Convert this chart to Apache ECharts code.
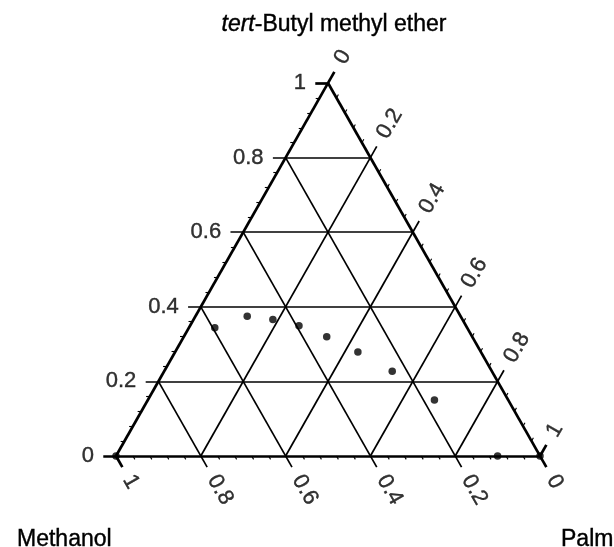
<!DOCTYPE html>
<html>
<head>
<meta charset="utf-8">
<script src="https://cdn.jsdelivr.net/npm/echarts@6/dist/echarts.min.js"></script>
<style>
  html, body { margin: 0; padding: 0; background: #fff; }
  #chart { width: 614px; height: 547px; }
</style>
</head>
<body>
<div id="chart"></div>
<script>
// Mole fractions of the three components for each measured composition
const METHANOL = [1.00, 0.595, 0.503, 0.447, 0.394, 0.343, 0.290, 0.235, 0.174, 0.10, 0.00];
const TBME     = [0.00, 0.344, 0.375, 0.366, 0.349, 0.320, 0.279, 0.227, 0.150, 0.00, 0.00];
const PALM     = [0.00, 0.061, 0.122, 0.187, 0.257, 0.337, 0.431, 0.538, 0.676, 0.90, 1.00];

// Labelled grid levels shared by all three axes
const TICKS = [0, 0.2, 0.4, 0.6, 0.8, 1];
const MINOR_STEP = 0.04;

const FONT = '"Liberation Sans", Arial, Helvetica, sans-serif';
const TICK_EXT = 0.03;     // major tick length beyond the edge (fraction units)
const MINOR_EXT = 0.009;   // minor tick length
const LABEL_GAP = 0.055;   // rotated label offset from the edge
const LEFT_GAP = 0.052;    // left label offset

// ternary (methanol, tbme, palm) -> cartesian with the top vertex at x = 0.5
function toXY(m, t, p) { return [p + t / 2, t]; }

// iso-lines, each running from its own axis (extended by ext) to the far edge
function tbmeLine(v, ext) { return [toXY(1 - v + ext, v, -ext), toXY(0, v, 1 - v)]; }
function methanolLine(v, ext) { return [toXY(v, -ext, 1 - v + ext), toXY(v, 1 - v, 0)]; }
function palmLine(v, ext) { return [toXY(1 - v, 0, v), toXY(-ext, 1 - v + ext, v)]; }

const edgeLines = [];
const gridLines = [];
TICKS.forEach(function (v) {
  const target = (v === 0 || v === 1) ? edgeLines : gridLines;
  target.push({ coords: tbmeLine(v, TICK_EXT) });
  target.push({ coords: methanolLine(v, TICK_EXT) });
  target.push({ coords: palmLine(v, TICK_EXT) });
});

const minorLines = [];
for (let k = 1; k < 25; k++) {
  if (k % 5 === 0) continue;
  const v = k * MINOR_STEP;
  // left edge (TBME), bottom edge (methanol), right edge (palm)
  minorLines.push({ coords: [toXY(1 - v, v, 0), toXY(1 - v + MINOR_EXT, v, -MINOR_EXT)] });
  minorLines.push({ coords: [toXY(v, 0, 1 - v), toXY(v, -MINOR_EXT, 1 - v + MINOR_EXT)] });
  minorLines.push({ coords: [toXY(0, 1 - v, v), toXY(-MINOR_EXT, 1 - v + MINOR_EXT, v)] });
}

const points = METHANOL.map(function (m, i) { return toXY(m, TBME[i], PALM[i]); });

const leftLabels = TICKS.map(function (v) {
  return { value: toXY(1 - v + LEFT_GAP, v, -LEFT_GAP), name: String(v) };
});
const bottomLabels = TICKS.map(function (v) {
  return { value: toXY(v, -LABEL_GAP, 1 - v + LABEL_GAP), name: String(v) };
});
const rightLabels = TICKS.map(function (v) {
  return { value: toXY(-LABEL_GAP, 1 - v + LABEL_GAP, v), name: String(v) };
});

const TEXT_INK = { color: '#000', textBorderColor: '#000', textBorderWidth: 0.4 };

function labelSeries(data, rotate, align) {
  return {
    type: 'scatter',
    data: data,
    symbolSize: 0,
    silent: true,
    clip: false,
    label: Object.assign({
      show: true,
      position: 'inside',
      formatter: '{b}',
      rotate: rotate,
      align: align,
      verticalAlign: 'middle',
      fontFamily: FONT,
      fontSize: 22
    }, TEXT_INK)
  };
}

const chart = echarts.init(document.getElementById('chart'), null, { renderer: 'canvas' });
chart.setOption({
  animation: false,
  backgroundColor: '#fff',
  title: [
    {
      text: '{i|tert}-Butyl methyl ether',
      left: 329, top: 8, textAlign: 'center',
      textStyle: Object.assign({
        fontFamily: FONT, fontSize: 23, fontWeight: 'normal',
        rich: { i: Object.assign({ fontFamily: FONT, fontSize: 23, fontStyle: 'italic' }, TEXT_INK) }
      }, TEXT_INK)
    },
    {
      text: 'Methanol', left: 12, top: 523,
      textStyle: Object.assign({ fontFamily: FONT, fontSize: 23, fontWeight: 'normal' }, TEXT_INK)
    },
    {
      text: 'Palm', left: 556, top: 523,
      textStyle: Object.assign({ fontFamily: FONT, fontSize: 23, fontWeight: 'normal' }, TEXT_INK)
    }
  ],
  grid: { left: 116, top: 83, width: 424, height: 373 },
  xAxis: { type: 'value', min: 0, max: 1, show: false },
  yAxis: { type: 'value', min: 0, max: 1, show: false },
  series: [
    {
      type: 'lines', coordinateSystem: 'cartesian2d', data: gridLines, silent: true, clip: false,
      lineStyle: { color: '#000', width: 1.7, opacity: 1 }
    },
    {
      type: 'lines', coordinateSystem: 'cartesian2d', data: minorLines, silent: true, clip: false,
      lineStyle: { color: '#000', width: 1.1, opacity: 1 }
    },
    {
      type: 'lines', coordinateSystem: 'cartesian2d', data: edgeLines, silent: true, clip: false,
      lineStyle: { color: '#000', width: 2.7, opacity: 1 }
    },
    {
      type: 'scatter', data: points, symbol: 'circle', symbolSize: 7.5, clip: false,
      itemStyle: { color: '#000' }
    },
    labelSeries(leftLabels, 0, 'right'),
    labelSeries(bottomLabels, -60, 'left'),
    labelSeries(rightLabels, 60, 'left')
  ]
});
</script>
</body>
</html>
